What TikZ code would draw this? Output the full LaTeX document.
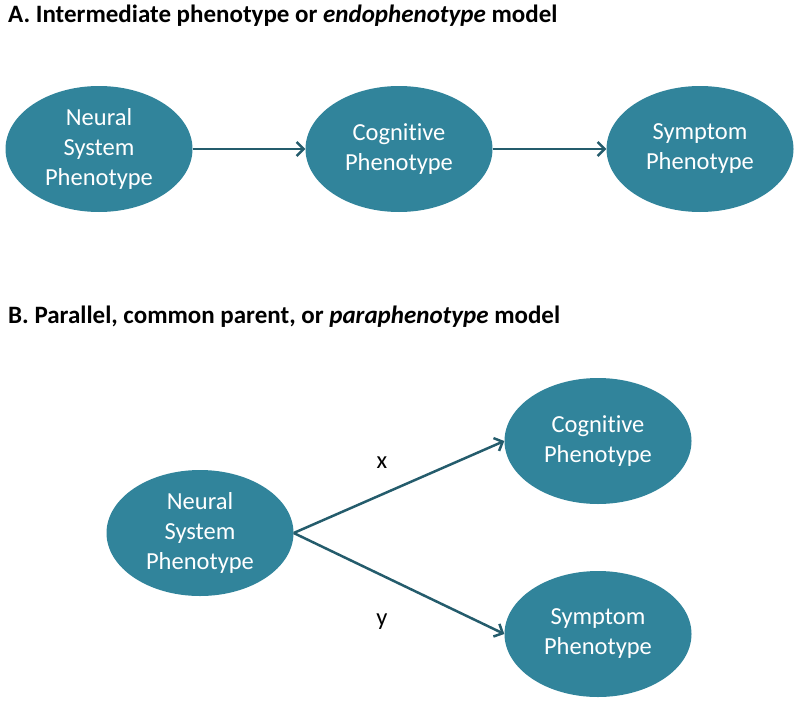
\documentclass[tikz,border=0pt]{standalone}
\usepackage{fontspec}
\setmainfont[Ligatures=NoCommon]{Carlito}
\usepackage{tikz}
\usetikzlibrary{arrows.meta}
\usetikzlibrary{positioning,shapes}
\definecolor{pheno}{HTML}{31849B}
\definecolor{linkcol}{HTML}{245C6C}
\tikzset{
    pheno/.style={
        ellipse,
        fill=pheno,
        minimum width=187pt,
        minimum height=126pt,
        inner sep=0pt,
        align=center,
        text=white,
        font=\fontsize{24.5}{30}\selectfont
    },
    heading/.style={
        anchor=base west,
        inner sep=0pt,
        font=\fontsize{25}{30}\selectfont\bfseries
    },
    link/.style={
        draw=linkcol,
        line width=2.5pt,
        -{Straight Barb[length=7pt,width=14pt]}
    },
    weight/.style={
        font=\fontsize{24.5}{30}\selectfont
    }
}

\begin{document}
\begin{tikzpicture}[x=1pt,y=-1pt]
    \useasboundingbox (0,0) rectangle (800,704);
    % A. endophenotype model
    \node[heading] (titleA) at (8,23) {A. Intermediate phenotype or \textit{endophenotype} model};
    \node[pheno] (neuralA) at (99,149) {Neural\\System\\Phenotype};
    \node[pheno] (cogA) at (399,149) {Cognitive\\Phenotype};
    \node[pheno] (sympA) at (700,149) {Symptom\\Phenotype};

    \draw[link] (neuralA) -- (cogA);
    \draw[link] (cogA) -- (sympA);

    % B. paraphenotype model
    \node[heading] (titleB) at (8,323) {B. Parallel, common parent, or \textit{paraphenotype} model};
    \node[pheno] (neuralB) at (200,533) {Neural\\System\\Phenotype};
    \node[pheno] (cogB) at (598,441) {Cognitive\\Phenotype};
    \node[pheno] (sympB) at (598,634) {Symptom\\Phenotype};

    \draw[link] (neuralB.east) -- (cogB.west);
    \draw[link] (neuralB.east) -- (sympB.west);
    \node[weight] (labx) at (382,463) {x};
    \node[weight] (laby) at (382,622) {y};
\end{tikzpicture}
\end{document}
